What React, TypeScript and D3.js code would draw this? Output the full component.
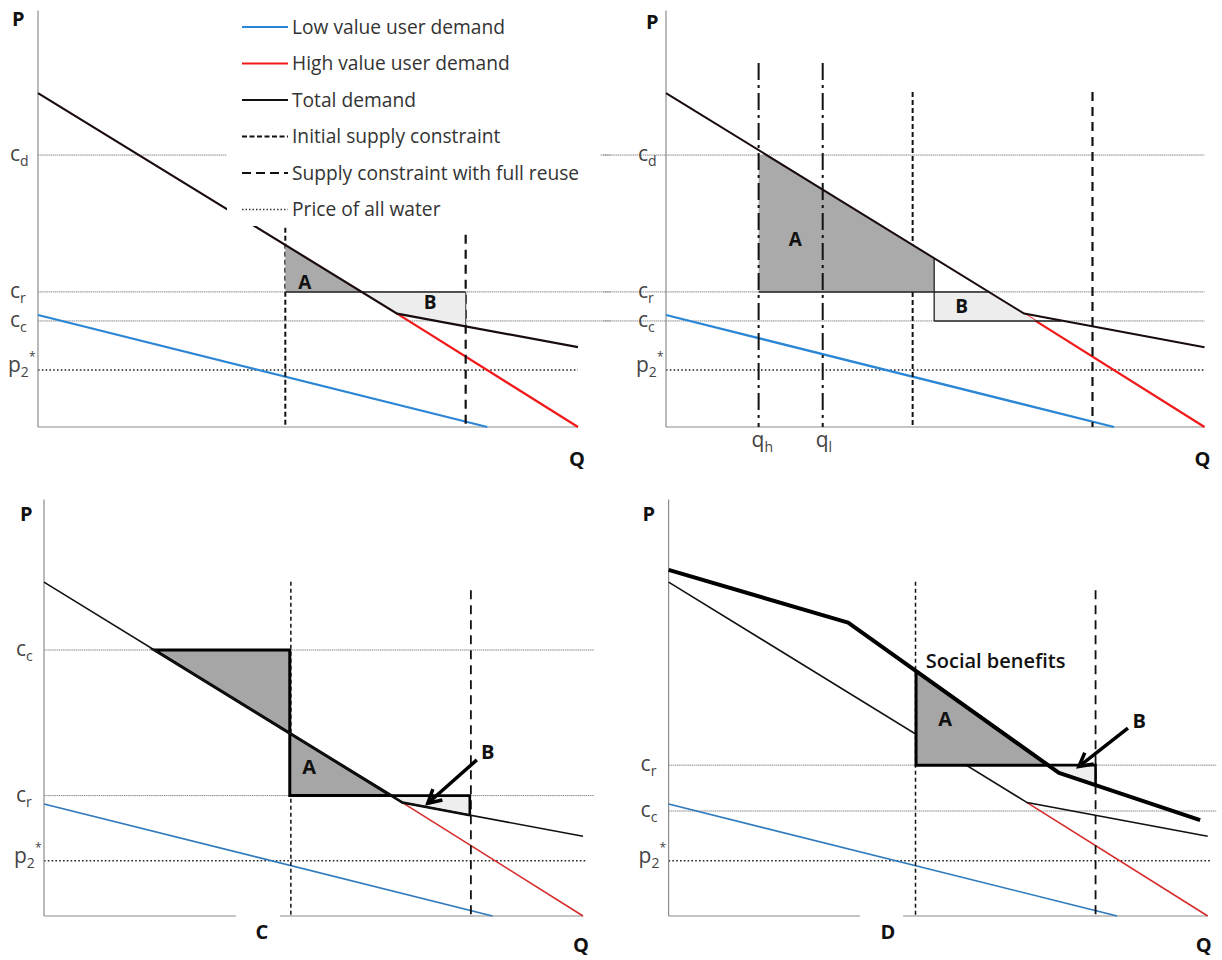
import React, { useEffect } from "react";
import * as d3 from "d3";

type Pt = [number, number];

// Q and P are in schematic units (0..100) on every panel
const totalDemand: Pt[] = [[0, 95.4], [66.5, 32.4], [100, 22.8]];
const highValueTail: Pt[] = [[66.5, 32.4], [100, 0]];
const lowValueDemand: Pt[] = [[0, 32], [83.2, 0]];
const supplyQ = [45.8, 79.2]; // initial, full reuse

const legendLabels = [
  "Low value user demand",
  "High value user demand",
  "Total demand",
  "Initial supply constraint",
  "Supply constraint with full reuse",
  "Price of all water",
];

// panel 1 (top left)
const levels1 = [{ sub: "d", p: 77.7 }, { sub: "r", p: 38.6 }, { sub: "c", p: 30.3 }];
const p2Star1 = 16.3;
const supplyTop1 = [56.9, 54.9];
const areaA1: Pt[] = [[45.8, 52.1], [60, 38.6], [45.8, 38.6]];
const areaB1: Pt[] = [[60, 38.6], [79.2, 38.6], [79.2, 28.9], [66.5, 32.4]];

// panel 2 (top right)
const levels2 = levels1;
const p2Star2 = 16.3;
const supplyTop2 = [95.7, 95.7];
const marginalQ = [{ sub: "h", q: 17.2 }, { sub: "l", q: 29.1 }];
const areaA2: Pt[] = [[17.2, 77.7], [18.9, 77.7], [49.8, 48.3], [49.8, 38.6], [17.2, 38.6]];
const areaB2: Pt[] = [[49.8, 38.6], [60, 38.6], [66.5, 32.4], [68.8, 30.3], [49.8, 30.3]];

// panel 3 (bottom left, C)
const levels3 = [{ sub: "c", p: 76 }, { sub: "r", p: 34.4 }];
const p2Star3 = 15.8;
const supplyTop3 = [95.5, 93.1];
const upperArea3: Pt[] = [[20.5, 76], [45.6, 76], [45.6, 52.2]];
const areaA3: Pt[] = [[45.6, 52.2], [64.4, 34.4], [45.6, 34.4]];
const areaB3: Pt[] = [[64.4, 34.4], [79, 34.4], [79, 28.8], [66.5, 32.4]];
const arrow3: Pt[] = [[80.3, 44.6], [71.2, 32.2]];

// panel 4 (bottom right, D)
const levels4 = [{ sub: "r", p: 43.1 }, { sub: "c", p: 30 }];
const p2Star4 = 15.8;
const supplyTop4 = [95.5, 93.1];
const socialDemand: Pt[] = [[0, 98.9], [33.3, 83.8], [72.4, 40.9], [98.6, 27.4]];
const areaA4: Pt[] = [[45.9, 70], [70.4, 43.1], [45.9, 43.1]];
const areaB4: Pt[] = [[70.4, 43.1], [79.2, 43.1], [79.2, 37.4], [72.4, 40.9]];
const arrow4: Pt[] = [[85.2, 53.7], [76.1, 42.7]];

const FONT = "'Open Sans', 'Noto Sans', sans-serif";
const GRID = "#8a8a8a";
const AXIS = "#8c8c8c";

type Frame = { x0: number; x1: number; yBase: number };
const frames: Frame[] = [
  { x0: 38, x1: 578, yBase: 427 },
  { x0: 666, x1: 1204.5, yBase: 427 },
  { x0: 44, x1: 583, yBase: 916 },
  { x0: 668.6, x1: 1207.7, yBase: 916 },
];

const makeScales = (f: Frame) => ({
  x: d3.scaleLinear().domain([0, 100]).range([f.x0, f.x1]),
  y: d3.scaleLinear().domain([0, 100]).range([f.yBase, f.yBase - 350]),
});
type S = ReturnType<typeof makeScales>;

const path = (pts: Pt[], s: S, close = false) => {
  const d = d3.line<Pt>().x((p) => s.x(p[0])).y((p) => s.y(p[1]))(pts) || "";
  return close ? d + "Z" : d;
};

const PriceLabel = ({ s, p, sub }: { s: S; p: number; sub: string }) => (
  <text x={s.x(0) - 28} y={s.y(p) + 6} fontSize={21} fill="#444" fontFamily={FONT}>
    c<tspan fontSize={14} dy={5}>{sub}</tspan>
  </text>
);

const P2Label = ({ s, p }: { s: S; p: number }) => (
  <text x={s.x(0) - 30} y={s.y(p) + 2} fontSize={21} fill="#444" fontFamily={FONT}>
    p<tspan fontSize={14} dy={5}>2</tspan>
    <tspan fontSize={12} dy={-16}>*</tspan>
  </text>
);

const Arrow = ({ s, pts }: { s: S; pts: Pt[] }) => {
  const [x1, y1, x2, y2] = [s.x(pts[0][0]), s.y(pts[0][1]), s.x(pts[1][0]), s.y(pts[1][1])];
  const a = Math.atan2(y2 - y1, x2 - x1);
  const h = 15;
  const l = [x2 - h * Math.cos(a - 0.5), y2 - h * Math.sin(a - 0.5)];
  const r = [x2 - h * Math.cos(a + 0.5), y2 - h * Math.sin(a + 0.5)];
  return (
    <g stroke="#000" strokeWidth={3.5} fill="none" strokeLinejoin="miter">
      <line x1={x1} y1={y1} x2={x2 - 2 * Math.cos(a)} y2={y2 - 2 * Math.sin(a)} />
      <path d={`M${l[0]},${l[1]}L${x2},${y2}L${r[0]},${r[1]}`} />
    </g>
  );
};

const Base = ({
  s, levels, levelSpan, p2, p2Span, supplyTop, thin, blue, red, gap,
}: {
  s: S; levels: { sub: string; p: number }[]; levelSpan: number[]; p2: number; p2Span: number[];
  supplyTop: number[]; thin?: boolean; blue: string; red: string; gap?: number[];
}) => (
  <g>
    {levels.map((l) => (
      <line key={l.sub} x1={s.x(levelSpan[0])} x2={s.x(levelSpan[1])} y1={s.y(l.p)} y2={s.y(l.p)}
        stroke={GRID} strokeWidth={1} strokeDasharray="1.5,0.6" />
    ))}
    <line x1={s.x(p2Span[0])} x2={s.x(p2Span[1])} y1={s.y(p2)} y2={s.y(p2)}
      stroke="#222" strokeWidth={1.6} strokeDasharray="1.6,2.2" />
    {/* axes */}
    <line x1={s.x(0)} x2={s.x(0)} y1={s.y(0)} y2={s.y(119)} stroke={AXIS} strokeWidth={1.2} />
    {gap ? (
      <g>
        <line x1={s.x(0)} x2={s.x(gap[0])} y1={s.y(0)} y2={s.y(0)} stroke={AXIS} strokeWidth={1.2} />
        <line x1={s.x(gap[1])} x2={s.x(100)} y1={s.y(0)} y2={s.y(0)} stroke={AXIS} strokeWidth={1.2} />
      </g>
    ) : (
      <line x1={s.x(0)} x2={s.x(100)} y1={s.y(0)} y2={s.y(0)} stroke={AXIS} strokeWidth={1.2} />
    )}
    <path d={path(lowValueDemand, s)} stroke={blue} strokeWidth={thin ? 1.6 : 2.2} fill="none" />
    <path d={path(highValueTail, s)} stroke={red} strokeWidth={thin ? 1.6 : 2.2} fill="none" />
    <line x1={s.x(supplyQ[0])} x2={s.x(supplyQ[0])} y1={s.y(supplyTop[0])} y2={s.y(0)}
      stroke="#111" strokeWidth={thin ? 1.5 : 2} strokeDasharray={thin ? "4,3" : "5,3"} />
    <line x1={s.x(supplyQ[1])} x2={s.x(supplyQ[1])} y1={s.y(supplyTop[1])} y2={s.y(0)}
      stroke="#111" strokeWidth={thin ? 1.8 : 2.2} strokeDasharray="9,6" />
    {levels.map((l) => <PriceLabel key={l.sub} s={s} p={l.p} sub={l.sub} />)}
    <P2Label s={s} p={p2} />
  </g>
);

const Letter = ({ x, y, t, size = 19 }: { x: number; y: number; t: string; size?: number }) => (
  <text x={x} y={y} fontSize={size} fontWeight="bold" fontFamily={FONT} textAnchor="middle"
    dominantBaseline="central" fill="#111">{t}</text>
);

const Axis = ({ x, y, t }: { x: number; y: number; t: string }) => (
  <text x={x} y={y} fontSize={20} fontWeight="bold" fontFamily={FONT} fill="#111">{t}</text>
);

const App = () => {
  useEffect(() => {
    document.body.style.margin = "0";
  }, []);
  const [s1, s2, s3, s4] = frames.map(makeScales);
  const legendStyles = [
    { c: "#2b86d6", w: 2.2, d: "none" },
    { c: "#f01818", w: 2.2, d: "none" },
    { c: "#111", w: 2.2, d: "none" },
    { c: "#111", w: 2, d: "5,2.5" },
    { c: "#111", w: 2.2, d: "9,5" },
    { c: "#333", w: 1.6, d: "1.5,2" },
  ];

  return (
    <svg width={1222} height={960} style={{ display: "block", background: "#fff" }}>
      {/* ---------- panel 1 ---------- */}
      <Base s={s1} levels={levels1} levelSpan={[0, 106]} p2={p2Star1} p2Span={[0, 100]}
        supplyTop={supplyTop1} blue="#2b86d6" red="#f01818" />
      <path d={path(areaA1, s1, true)} fill="#aaaaaa" />
      <path d={path(areaB1, s1, true)} fill="#ededed" />
      <line x1={s1.x(45.8)} x2={s1.x(79.2)} y1={s1.y(38.6)} y2={s1.y(38.6)} stroke="#222" strokeWidth={1.5} />
      <line x1={s1.x(79.2)} x2={s1.x(79.2)} y1={s1.y(38.6)} y2={s1.y(28.9)} stroke="#555" strokeWidth={1.2} />
      <path d={path(totalDemand, s1)} stroke="#1a0c0c" strokeWidth={2.2} fill="none" />
      <Letter x={s1.x(49.4)} y={s1.y(41.4)} t="A" />
      <Letter x={s1.x(72.6)} y={s1.y(35.7)} t="B" />
      <rect x={227} y={0} width={373} height={226} fill="#fff" />
      {legendLabels.map((t, i) => {
        const y = 27 + i * 36.5;
        const st = legendStyles[i];
        return (
          <g key={t}>
            <line x1={242} x2={288} y1={y} y2={y} stroke={st.c} strokeWidth={st.w}
              strokeDasharray={st.d === "none" ? undefined : st.d} />
            <text x={292} y={y + 6.5} fontSize={19.2} fill="#333" fontFamily={FONT}>{t}</text>
          </g>
        );
      })}
      <Axis x={s1.x(0) - 26} y={26} t="P" />
      <Axis x={s1.x(100) - 9} y={466} t="Q" />

      {/* ---------- panel 2 ---------- */}
      <Base s={s2} levels={levels2} levelSpan={[-11.7, 100]} p2={p2Star2} p2Span={[0, 100]}
        supplyTop={supplyTop2} blue="#2b86d6" red="#f01818" />
      <path d={path(areaA2, s2, true)} fill="#aaaaaa" />
      <path d={path(areaB2, s2, true)} fill="#ededed" />
      <line x1={s2.x(17.2)} x2={s2.x(60)} y1={s2.y(38.6)} y2={s2.y(38.6)} stroke="#222" strokeWidth={1.5} />
      <line x1={s2.x(49.8)} x2={s2.x(73.4)} y1={s2.y(30.3)} y2={s2.y(30.3)} stroke="#222" strokeWidth={1.5} />
      <line x1={s2.x(49.8)} x2={s2.x(49.8)} y1={s2.y(48.3)} y2={s2.y(30.3)} stroke="#222" strokeWidth={1.3} />
      <path d={path(totalDemand, s2)} stroke="#1a0c0c" strokeWidth={2} fill="none" />
      {marginalQ.map((m) => (
        <g key={m.sub}>
          <line x1={s2.x(m.q)} x2={s2.x(m.q)} y1={s2.y(104)} y2={s2.y(0)} stroke="#111"
            strokeWidth={2} strokeDasharray="17,5,3,5" />
          <text x={s2.x(m.q) - 7} y={447} fontSize={21} fill="#444" fontFamily={FONT}>
            q<tspan fontSize={14} dy={5}>{m.sub}</tspan>
          </text>
        </g>
      ))}
      <Letter x={s2.x(24)} y={s2.y(53.7)} t="A" />
      <Letter x={s2.x(54.9)} y={s2.y(34.6)} t="B" />
      <Axis x={s2.x(0) - 20} y={29} t="P" />
      <Axis x={s2.x(100) - 10} y={466} t="Q" />

      {/* ---------- panel 3 ---------- */}
      <Base s={s3} levels={levels3} levelSpan={[0, 102]} p2={p2Star3} p2Span={[0, 100.5]}
        supplyTop={supplyTop3} thin blue="#2e78bd" red="#d62c2c" gap={[35.6, 43.8]} />
      <path d={path(upperArea3, s3, true)} fill="#a6a6a6" stroke="#000" strokeWidth={3} strokeLinejoin="miter" />
      <path d={path(areaA3, s3, true)} fill="#a6a6a6" stroke="#000" strokeWidth={3} />
      <path d={path(areaB3, s3, true)} fill="#eeeeee" stroke="#000" strokeWidth={2.6} />
      <path d={path(totalDemand, s3)} stroke="#111" strokeWidth={1.6} fill="none" />
      <Letter x={s3.x(49.2)} y={s3.y(42.6)} t="A" size={20} />
      <Letter x={s3.x(82.3)} y={s3.y(46.9)} t="B" size={20} />
      <Arrow s={s3} pts={arrow3} />
      <Letter x={s3.x(40.4)} y={931} t="C" size={20} />
      <Axis x={s3.x(0) - 24} y={521} t="P" />
      <Axis x={s3.x(100) - 10} y={952} t="Q" />

      {/* ---------- panel 4 ---------- */}
      <Base s={s4} levels={levels4} levelSpan={[0, 101.7]} p2={p2Star4} p2Span={[0, 100.4]}
        supplyTop={supplyTop4} thin blue="#2e78bd" red="#d62c2c" gap={[35.5, 43.5]} />
      <path d={path(totalDemand, s4)} stroke="#111" strokeWidth={1.6} fill="none" />
      <path d={path(areaA4, s4, true)} fill="#a6a6a6" stroke="#000" strokeWidth={3} />
      <path d={path(areaB4, s4, true)} fill="#eeeeee" stroke="#000" strokeWidth={2.6} />
      <path d={path(socialDemand, s4)} stroke="#000" strokeWidth={4} fill="none" strokeLinejoin="round" />
      <text x={s4.x(47.7)} y={s4.y(70.9)} fontSize={20} fontWeight={600} fontFamily={FONT} fill="#111">
        Social benefits
      </text>
      <Letter x={s4.x(51.3)} y={s4.y(56.3)} t="A" size={20} />
      <Letter x={s4.x(87.3)} y={s4.y(55.8)} t="B" size={20} />
      <Arrow s={s4} pts={arrow4} />
      <Letter x={s4.x(40.7)} y={931} t="D" size={20} />
      <Axis x={s4.x(0) - 26} y={521} t="P" />
      <Axis x={s4.x(100) - 12} y={952} t="Q" />
    </svg>
  );
};

export default App;
